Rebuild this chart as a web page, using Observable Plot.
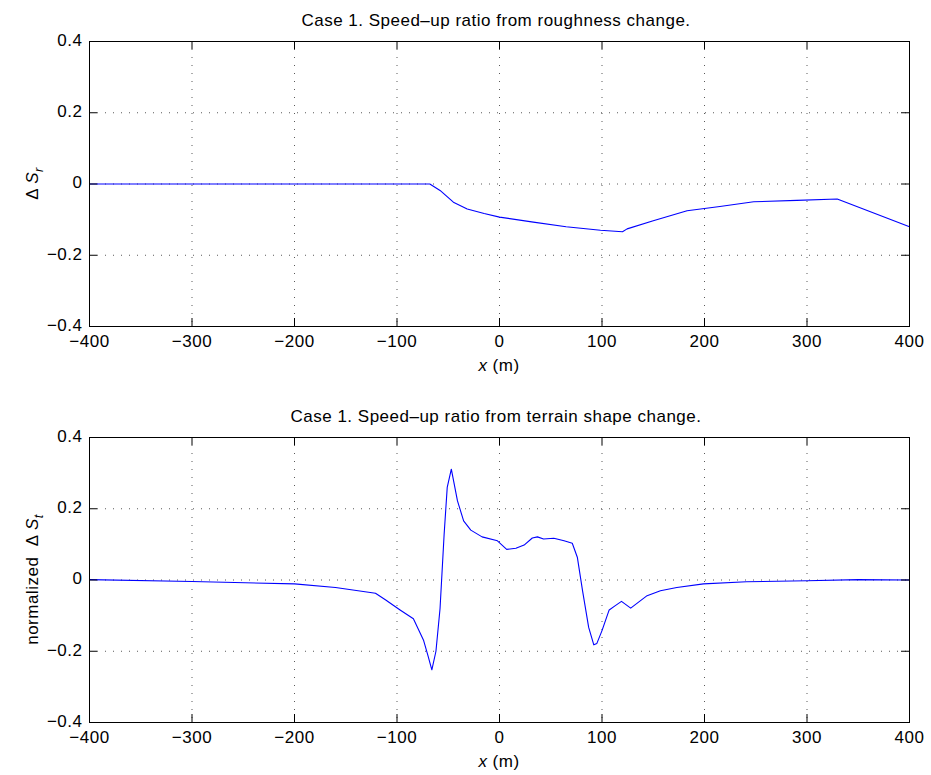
<!DOCTYPE html>
<html>
<head>
<meta charset="utf-8">
<script src="https://cdn.jsdelivr.net/npm/d3@7"></script>
<script src="https://cdn.jsdelivr.net/npm/@observablehq/plot@0.6"></script>
<style>
  body { margin: 0; background: #fff; }
  #chart svg { display: block; background: #fff; overflow: visible; letter-spacing: 0.5px; }
</style>
</head>
<body>
<div id="chart"></div>
<script>
// Roughness change speed-up (top panel)
const roughX = [-400, -68, -58, -45, -31.5, -15, 0, 33, 65, 98.5, 120, 124.5, 150, 183, 215, 248, 290, 329.5, 400];
const roughY = [0, 0, -0.018, -0.051, -0.07, -0.083, -0.093, -0.107, -0.12, -0.13, -0.134, -0.126, -0.103, -0.075, -0.063, -0.05, -0.046, -0.042, -0.12];

// Terrain shape change speed-up (bottom panel)
const terrX = [-400, -300, -200, -160, -121, -111, -97, -84, -74, -70, -66, -62, -58, -54, -51, -47, -41, -35, -28, -17, -2, 7, 16, 24, 32, 37, 43, 53, 63, 71, 76, 81, 87, 92, 95, 100, 107, 113, 119, 128, 144, 157, 173, 199, 241, 300, 350, 400];
const terrY = [0.001, -0.004, -0.011, -0.021, -0.037, -0.056, -0.084, -0.109, -0.17, -0.21, -0.252, -0.2, -0.08, 0.129, 0.26, 0.311, 0.222, 0.166, 0.14, 0.121, 0.11, 0.086, 0.089, 0.098, 0.118, 0.121, 0.115, 0.117, 0.11, 0.103, 0.063, -0.03, -0.133, -0.182, -0.178, -0.142, -0.084, -0.072, -0.06, -0.079, -0.044, -0.03, -0.021, -0.011, -0.005, -0.002, 0.001, 0.0];

const xTicks = [-400, -300, -200, -100, 0, 100, 200, 300, 400];
const yTicks = [-0.4, -0.2, 0, 0.2, 0.4];

const titles = ["Case 1. Speed\u2013up ratio from roughness change.", "Case 1. Speed\u2013up ratio from terrain shape change."];

const FONT = "Liberation Sans, Arial, Helvetica, sans-serif";
const FS = 17;

function panel(xs, ys, opts) {
  const data = xs.map((x, i) => ({x, y: ys[i]}));
  const W = 931, mL = 89, mR = 22;
  const fw = W - mL - mR;
  const fh = opts.height - opts.mt - opts.mb;
  const fmtY = d => d === 0 ? "0" : d3.format(".1f")(d);
  const svg = Plot.plot({
    width: W,
    height: opts.height,
    marginLeft: mL,
    marginRight: mR,
    marginTop: opts.mt,
    marginBottom: opts.mb,
    style: {fontFamily: FONT, fontSize: FS + "px", color: "black", background: "white", overflow: "visible"},
    x: {domain: [-400, 400]},
    y: {domain: [-0.4, 0.4]},
    marks: [
      Plot.gridX(xTicks, {stroke: "black", strokeOpacity: 0.65, strokeDasharray: "1,7"}),
      Plot.gridY(yTicks, {stroke: "black", strokeOpacity: 0.65, strokeDasharray: "1,7"}),
      Plot.line(data, {x: "x", y: "y", stroke: "#0000ff", strokeWidth: 1.1}),
      Plot.tickX(xTicks, {x: d => d, stroke: "black", insetTop: fh - 8}),
      Plot.tickX(xTicks, {x: d => d, stroke: "black", insetBottom: fh - 8}),
      Plot.tickY(yTicks, {y: d => d, stroke: "black", insetRight: fw - 8}),
      Plot.tickY(yTicks, {y: d => d, stroke: "black", insetLeft: fw - 8}),
      Plot.axisX(xTicks, {tickSize: 0, tickPadding: 8, label: null, fontSize: FS}),
      Plot.axisY(yTicks, {tickSize: 0, tickPadding: 7, dy: -1, label: null, tickFormat: fmtY, fontSize: FS}),
      Plot.frame({stroke: "black", strokeWidth: 1})
    ]
  });
  const s = d3.select(svg);
  const cx = mL + fw / 2 - 3;
  // title
  s.append("text")
    .attr("x", cx).attr("y", opts.mt - 15)
    .attr("text-anchor", "middle")
    .attr("font-family", FONT).attr("font-size", FS)
    .attr("fill", "black")
    .text(opts.title);
  // x label
  const xl = s.append("text")
    .attr("x", cx + 3).attr("y", opts.height - opts.mb + 45)
    .attr("text-anchor", "middle")
    .attr("font-family", FONT).attr("font-size", FS)
    .attr("fill", "black");
  xl.append("tspan").attr("font-style", "italic").text("x");
  xl.append("tspan").text(" (m)");
  // y label
  const yl = s.append("text")
    .attr("transform", `translate(${opts.ylx},${opts.mt + fh / 2}) rotate(-90)`)
    .attr("text-anchor", "middle")
    .attr("font-family", FONT).attr("font-size", FS)
    .attr("fill", "black");
  yl.append("tspan").text(opts.ylPrefix + "\u0394 ");
  yl.append("tspan").attr("font-style", "italic").text("S");
  yl.append("tspan").attr("font-style", "italic").attr("font-size", FS * 0.75).attr("dy", 5).text(opts.ylSub);
  return svg;
}

const root = document.getElementById("chart");
root.appendChild(panel(roughX, roughY, {height: 388, mt: 41, mb: 62, title: titles[0], ylx: 38, ylPrefix: "", ylSub: "r"}));
root.appendChild(panel(terrX, terrY, {height: 387, mt: 49, mb: 53, title: titles[1], ylx: 38, ylPrefix: "normalized  ", ylSub: "t"}));
</script>
</body>
</html>
